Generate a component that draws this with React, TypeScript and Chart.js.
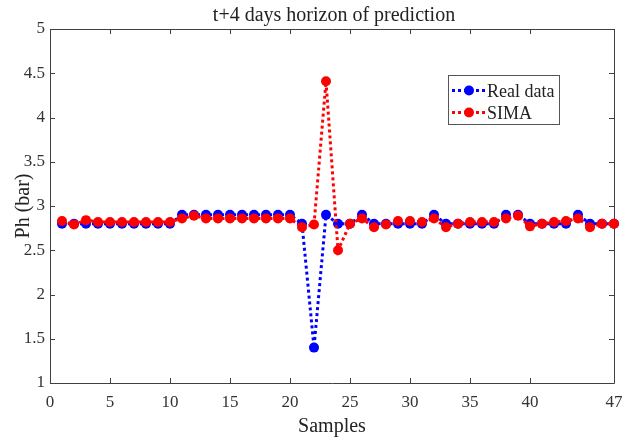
import React, { useEffect, useRef } from "react";
import { Chart, registerables } from "chart.js";

Chart.register(...registerables);

const samples = [1, 2, 3, 4, 5, 6, 7, 8, 9, 10, 11, 12, 13, 14, 15, 16, 17, 18, 19, 20, 21, 22, 23, 24, 25, 26, 27, 28, 29, 30, 31, 32, 33, 34, 35, 36, 37, 38, 39, 40, 41, 42, 43, 44, 45, 46, 47];

const realData = [2.8, 2.8, 2.8, 2.8, 2.8, 2.8, 2.8, 2.8, 2.8, 2.8, 2.9, 2.9, 2.9, 2.9, 2.9, 2.9, 2.9, 2.9, 2.9, 2.9, 2.8, 1.4, 2.9, 2.8, 2.8, 2.9, 2.8, 2.8, 2.8, 2.8, 2.8, 2.9, 2.8, 2.8, 2.8, 2.8, 2.8, 2.9, 2.9, 2.8, 2.8, 2.8, 2.8, 2.9, 2.8, 2.8, 2.8];

const simaData = [2.83, 2.79, 2.84, 2.82, 2.82, 2.82, 2.82, 2.82, 2.82, 2.82, 2.86, 2.89, 2.86, 2.86, 2.86, 2.86, 2.86, 2.86, 2.86, 2.86, 2.76, 2.79, 4.41, 2.5, 2.8, 2.86, 2.76, 2.79, 2.83, 2.83, 2.82, 2.86, 2.76, 2.8, 2.82, 2.82, 2.82, 2.86, 2.89, 2.77, 2.8, 2.82, 2.83, 2.86, 2.76, 2.8, 2.8];

const xTicks = [0, 5, 10, 15, 20, 25, 30, 35, 40, 47];
const yTicks = [1, 1.5, 2, 2.5, 3, 3.5, 4, 4.5, 5];

const titleText = "t+4 days horizon of prediction";
const xLabel = "Samples";
const yLabel = "Ph (bar)";
const seriesNames = ["Real data", "SIMA"];
const seriesColors = ["#0000ff", "#ff0000"];

const SERIF = "'Liberation Serif', 'Times New Roman', serif";
const AXIS_COLOR = "#404040";
const TEXT_COLOR = "#333333";

const framePlugin = {
  id: "matlabFrame",
  beforeDatasetsDraw(chart: any) {
    const { ctx, chartArea } = chart;
    const { left, right, top, bottom } = chartArea;
    ctx.save();
    ctx.strokeStyle = AXIS_COLOR;
    ctx.lineWidth = 1;
    ctx.beginPath();
    ctx.rect(Math.round(left) + 0.5, Math.round(top) + 0.5, Math.round(right - left), Math.round(bottom - top));
    ctx.stroke();
    const tl = 5;
    const xs = chart.scales.x;
    const ys = chart.scales.y;
    ctx.beginPath();
    for (const v of xTicks) {
      const px = Math.round(xs.getPixelForValue(v)) + 0.5;
      ctx.moveTo(px, bottom);
      ctx.lineTo(px, bottom - tl);
      ctx.moveTo(px, top);
      ctx.lineTo(px, top + tl);
    }
    for (const v of yTicks) {
      const py = Math.round(ys.getPixelForValue(v)) + 0.5;
      ctx.moveTo(left, py);
      ctx.lineTo(left + tl, py);
      ctx.moveTo(right, py);
      ctx.lineTo(right - tl, py);
    }
    ctx.stroke();
    ctx.restore();
  },
  afterDraw(chart: any) {
    const { ctx, chartArea } = chart;
    ctx.save();
    // title
    ctx.fillStyle = "#222222";
    ctx.font = `20px ${SERIF}`;
    ctx.textAlign = "center";
    ctx.textBaseline = "alphabetic";
    ctx.fillText(titleText, (chartArea.left + chartArea.right) / 2 + 2, 20.5);

    // legend
    const bx = 448, by = 75, bw = 111, bh = 49;
    ctx.fillStyle = "#ffffff";
    ctx.fillRect(bx, by, bw, bh);
    ctx.strokeStyle = "#555555";
    ctx.lineWidth = 1;
    ctx.strokeRect(bx + 0.5, by + 0.5, bw, bh);
    const rows = [90.5, 112.5];
    for (let i = 0; i < 2; i++) {
      const y = rows[i];
      ctx.strokeStyle = seriesColors[i];
      ctx.lineWidth = 3;
      ctx.setLineDash([3, 3]);
      ctx.beginPath();
      ctx.moveTo(452, y);
      ctx.lineTo(486, y);
      ctx.stroke();
      ctx.setLineDash([]);
      ctx.fillStyle = seriesColors[i];
      ctx.beginPath();
      ctx.arc(469, y, 5, 0, Math.PI * 2);
      ctx.fill();
      ctx.fillStyle = "#222222";
      ctx.font = `18px ${SERIF}`;
      ctx.textAlign = "left";
      ctx.textBaseline = "alphabetic";
      ctx.fillText(seriesNames[i], 487, y + 6);
    }
    ctx.restore();
  },
};

export default function App() {
  const canvasRef = useRef<HTMLCanvasElement | null>(null);

  useEffect(() => {
    const canvas = canvasRef.current;
    if (!canvas) return;
    const mk = (vals: number[]) => samples.map((s, i) => ({ x: s, y: vals[i] }));
    const chart = new Chart(canvas, {
      type: "line",
      data: {
        datasets: [
          {
            label: seriesNames[0],
            data: mk(realData),
            borderColor: seriesColors[0],
            backgroundColor: seriesColors[0],
            borderWidth: 3,
            borderDash: [3, 3],
            pointRadius: 5,
            pointBorderWidth: 0,
            pointBackgroundColor: seriesColors[0],
            tension: 0,
            clip: false as any,
            order: 1,
          },
          {
            label: seriesNames[1],
            data: mk(simaData),
            borderColor: seriesColors[1],
            backgroundColor: seriesColors[1],
            borderWidth: 3,
            borderDash: [3, 3],
            pointRadius: 5,
            pointBorderWidth: 0,
            pointBackgroundColor: seriesColors[1],
            tension: 0,
            clip: false as any,
            order: 0,
          },
        ],
      },
      options: {
        responsive: false,
        animation: false,
        devicePixelRatio: 1,
        layout: { padding: { top: 29, right: 18, left: 0, bottom: 0 } },
        plugins: {
          legend: { display: false },
          title: { display: false },
          tooltip: { enabled: false },
        },
        scales: {
          x: {
            type: "linear",
            min: 0,
            max: 47,
            grid: { display: false, drawTicks: false },
            border: { display: false },
            afterBuildTicks: (scale: any) => {
              scale.ticks = xTicks.map((v) => ({ value: v }));
            },
            afterFit: (scale: any) => {
              scale.height = 59;
            },
            ticks: {
              autoSkip: false,
              maxRotation: 0,
              padding: 9,
              color: TEXT_COLOR,
              font: { family: SERIF, size: 17 },
              callback: (v: any) => String(v),
            },
            title: {
              display: true,
              text: xLabel,
              color: "#222222",
              font: { family: SERIF, size: 20 },
              padding: { top: 0, bottom: 3 },
            },
          },
          y: {
            type: "linear",
            min: 1,
            max: 5,
            grid: { display: false, drawTicks: false },
            border: { display: false },
            afterBuildTicks: (scale: any) => {
              scale.ticks = yTicks.map((v) => ({ value: v }));
            },
            afterFit: (scale: any) => {
              scale.width = 50;
            },
            ticks: {
              padding: 5,
              color: TEXT_COLOR,
              font: { family: SERIF, size: 17 },
              callback: (v: any) => String(v),
            },
            title: {
              display: true,
              text: yLabel,
              color: "#222222",
              font: { family: SERIF, size: 20 },
              padding: { top: 12, bottom: 0 },
            },
          },
        },
      },
      plugins: [framePlugin],
    });
    return () => chart.destroy();
  }, []);

  return (
    <div style={{ position: "absolute", left: 0, top: 0, width: 632, height: 442, background: "#fff" }}>
      <canvas ref={canvasRef} width={632} height={442} style={{ width: 632, height: 442, display: "block" }} />
    </div>
  );
}
